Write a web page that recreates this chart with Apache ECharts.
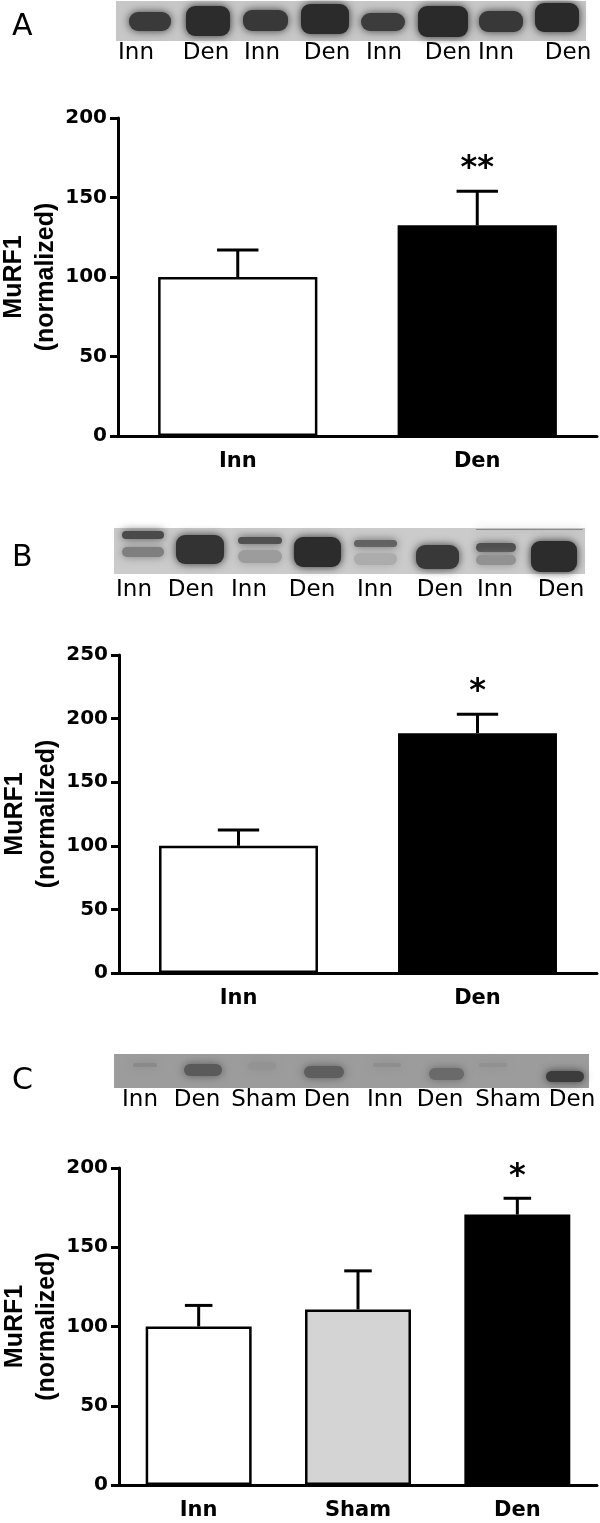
<!DOCTYPE html>
<html>
<head>
<meta charset="utf-8">
<script src="https://cdn.jsdelivr.net/npm/echarts@6/dist/echarts.min.js"></script>
<style>
  html, body { margin: 0; padding: 0; background: #fff; }
  #main { width: 600px; height: 1523px; }
</style>
</head>
<body>
<div id="main"></div>
<script>
// ---- data ----
var groupsAB = ['Inn', 'Den'];
var groupsC = ['Inn', 'Sham', 'Den'];

var meanA = [100, 132.5];
var semA = [17, 21.5];
var sigA = ['', '**'];

var meanB = [100, 188.5];
var semB = [12.5, 15];
var sigB = ['', '*'];

var meanC = [100, 110.8, 170.6];
var semC = [13.3, 24.3, 10.3];
var sigC = ['', '', '*'];

var yTicksA = [0, 50, 100, 150, 200];
var yTicksB = [0, 50, 100, 150, 200, 250];
var yTicksC = [0, 50, 100, 150, 200];

var lanesA = ['Inn', 'Den', 'Inn', 'Den', 'Inn', 'Den', 'Inn', 'Den'];
var lanesB = ['Inn', 'Den', 'Inn', 'Den', 'Inn', 'Den', 'Inn', 'Den'];
var lanesC = ['Inn', 'Den', 'Sham', 'Den', 'Inn', 'Den', 'Sham', 'Den'];

// ---- layout of the blot pictures (not data) ----
var FONT = 'DejaVu Sans';
var fillOf = { Inn: '#ffffff', Sham: '#d4d4d4', Den: '#000000' };

var blotA = { box: [116, 1, 586, 41], bg: '#c7c7c7', labelY: 53, letter: 'A', letterY: 27,
  labelX: [136, 206, 262, 327, 384, 448, 496, 568],
  bands: [[128,172,11,32,'#3a3a3a'],[185,231,5,37,'#2c2c2c'],[242,289,9,32,'#383838'],
          [300,350,3,35,'#2b2b2b'],[360,406,12,32,'#3c3c3c'],[417,469,5,38,'#2a2a2a'],
          [478,524,10,33,'#383838'],[534,580,2,33,'#2a2a2a']] };
var blotB = { box: [114, 528, 585, 574], bg: '#cbcbcb', labelY: 590, letter: 'B', letterY: 558,
  labelX: [134, 191, 249, 312, 375, 440, 495, 561],
  bands: [[121,165,530,540,'#4a4a4a'],[121,165,546,558,'#7f7f7f'],[175,225,534,565,'#333333'],
          [237,283,536,545,'#505050'],[237,283,549,564,'#9c9c9c'],[293,342,536,568,'#2c2c2c'],
          [353,398,539,548,'#626262'],[353,398,552,566,'#acacac'],[415,460,544,570,'#383838'],
          [475,517,542,553,'#4f4f4f'],[475,517,554,566,'#929292'],[530,578,540,573,'#2c2c2c'],
          [475,584,528,530,'#8a8a8a']] };
var blotC = { box: [114, 1054, 589, 1088], bg: '#9c9c9c', labelY: 1100, letter: 'C', letterY: 1081,
  labelX: [140, 197, 264, 327, 385, 440, 508, 572],
  bands: [[132,158,1062,1068,'#8a8a8a'],[183,223,1063,1077,'#5a5a5a'],[247,277,1061,1071,'#939393'],
          [303,345,1065,1079,'#5e5e5e'],[372,402,1062,1068,'#8e8e8e'],[428,465,1067,1081,'#6a6a6a'],
          [478,508,1062,1068,'#919191'],[545,585,1070,1083,'#3c3c3c']] };

function blotGraphics(b, lanes) {
  var out = [];
  out.push({ type: 'rect', shape: { x: b.box[0], y: b.box[1], width: b.box[2] - b.box[0], height: b.box[3] - b.box[1] },
    style: { fill: b.bg }, z: 1 });
  b.bands.forEach(function (d) {
    var h = d[3] - d[2];
    out.push({ type: 'rect', shape: { x: d[0] + 1, y: d[2] + 1, width: d[1] - d[0] - 2, height: Math.max(h - 2, 1), r: Math.min(9, h / 2) },
      style: { fill: d[4], shadowBlur: 8, shadowColor: d[4] }, z: 2 });
  });
  lanes.forEach(function (name, i) {
    out.push({ type: 'text', x: b.labelX[i], y: b.labelY, z: 3,
      style: { text: name, fill: '#000', fontFamily: FONT, fontSize: 23, align: 'center', verticalAlign: 'middle' } });
  });
  out.push({ type: 'text', x: 12, y: b.letterY, z: 3,
    style: { text: b.letter, fill: '#000', fontFamily: FONT, fontSize: 30, align: 'left', verticalAlign: 'middle' } });
  return out;
}

function errorRenderer(sig) {
  return function (params, api) {
    var idx = api.value(0), mean = api.value(1), sem = api.value(2);
    var base = api.coord([idx, mean]);
    var top = api.coord([idx, mean + sem]);
    var bw = api.size([1, 0])[0] * 0.665;
    var cap = bw * 0.26;
    var kids = [
      { type: 'line', shape: { x1: base[0], y1: base[1], x2: top[0], y2: top[1] }, style: { stroke: '#000', lineWidth: 3 } },
      { type: 'line', shape: { x1: top[0] - cap / 2, y1: top[1], x2: top[0] + cap / 2, y2: top[1] }, style: { stroke: '#000', lineWidth: 3 } }
    ];
    var s = sig[params.dataIndex];
    if (s) {
      kids.push({ type: 'text', x: top[0], y: top[1] - 22,
        style: { text: s, fill: '#000', fontFamily: FONT, fontWeight: 'bold', fontSize: 32, align: 'center', verticalAlign: 'middle' } });
    }
    return { type: 'group', children: kids };
  };
}

var grids = [
  { left: 118, top: 118, width: 479, height: 318, outerBoundsMode: 'none', containLabel: false },
  { left: 119, top: 655, width: 478, height: 318, outerBoundsMode: 'none', containLabel: false },
  { left: 119, top: 1168, width: 478, height: 317, outerBoundsMode: 'none', containLabel: false }
];
var panels = [
  { cats: groupsAB, mean: meanA, sem: semA, sig: sigA, ticks: yTicksA },
  { cats: groupsAB, mean: meanB, sem: semB, sig: sigB, ticks: yTicksB },
  { cats: groupsC, mean: meanC, sem: semC, sig: sigC, ticks: yTicksC }
];

var xAxes = [], yAxes = [], series = [];
panels.forEach(function (p, k) {
  xAxes.push({
    type: 'category', gridIndex: k, data: p.cats,
    axisLine: { lineStyle: { color: '#000', width: 3 } },
    axisTick: { alignWithLabel: true, length: 9, lineStyle: { color: '#000', width: 3 } },
    axisLabel: { color: '#000', fontFamily: FONT, fontWeight: 'bold', fontSize: 21, margin: 15 }
  });
  yAxes.push({
    type: 'value', gridIndex: k,
    min: p.ticks[0], max: p.ticks[p.ticks.length - 1], interval: p.ticks[1] - p.ticks[0],
    name: 'MuRF1\n(normalized)', nameLocation: 'middle', nameRotate: 90, nameGap: 56, nameMoveOverlap: false,
    nameTextStyle: { color: '#000', fontFamily: 'Liberation Sans', fontWeight: 'bold', fontSize: 25, lineHeight: 32 },
    axisLine: { show: true, lineStyle: { color: '#000', width: 3 } },
    axisTick: { show: true, length: 8, lineStyle: { color: '#000', width: 3 } },
    axisLabel: { color: '#000', fontFamily: FONT, fontWeight: 'bold', fontSize: 20, margin: 11 },
    splitLine: { show: false }
  });
  series.push({
    type: 'bar', xAxisIndex: k, yAxisIndex: k, barWidth: '66.5%',
    data: p.mean.map(function (v, i) {
      return { value: v, itemStyle: { color: fillOf[p.cats[i]], borderColor: '#000', borderWidth: 2.5 } };
    }),
    z: 2
  });
  series.push({
    type: 'custom', xAxisIndex: k, yAxisIndex: k, z: 3,
    renderItem: errorRenderer(p.sig),
    encode: { x: 0, y: 1 },
    data: p.mean.map(function (v, i) { return [i, v, p.sem[i]]; })
  });
});

var myChart = echarts.init(document.getElementById('main'));
var option = {
  animation: false,
  backgroundColor: '#fff',
  grid: grids,
  xAxis: xAxes,
  yAxis: yAxes,
  series: series,
  graphic: blotGraphics(blotA, lanesA).concat(blotGraphics(blotB, lanesB), blotGraphics(blotC, lanesC))
};
myChart.setOption(option);
</script>
</body>
</html>
